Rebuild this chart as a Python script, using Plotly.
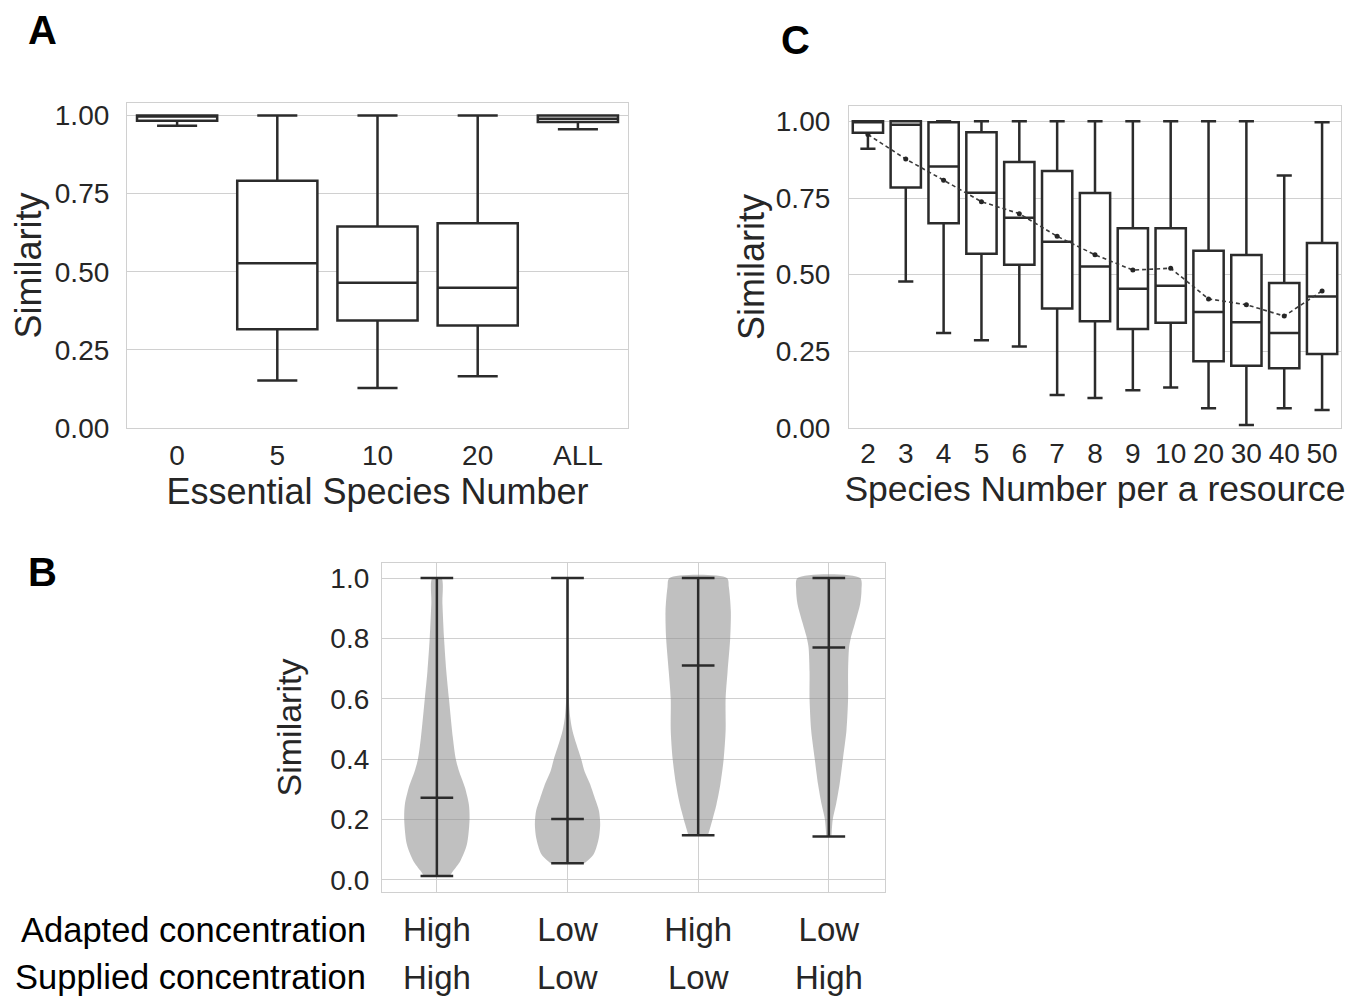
import plotly.graph_objects as go

# ---------------- Panel A data ----------------
a_cats = ["0", "5", "10", "20", "ALL"]
a_lower = [0.967, 0.152, 0.128, 0.166, 0.956]
a_q1 = [0.983, 0.316, 0.344, 0.328, 0.979]
a_median = [0.998, 0.527, 0.465, 0.449, 0.990]
a_q3 = [1.0, 0.791, 0.645, 0.655, 1.0]
a_upper = [1.0, 1.0, 1.0, 1.0, 1.0]

# ---------------- Panel C data ----------------
c_cats = ["2", "3", "4", "5", "6", "7", "8", "9", "10", "20", "30", "40", "50"]
c_lower = [0.911, 0.478, 0.310, 0.286, 0.266, 0.108, 0.098, 0.123, 0.132, 0.064, 0.010, 0.064, 0.059]
c_q1 = [0.963, 0.784, 0.668, 0.568, 0.532, 0.390, 0.348, 0.323, 0.343, 0.218, 0.203, 0.195, 0.241]
c_median = [0.998, 0.989, 0.853, 0.767, 0.686, 0.607, 0.527, 0.454, 0.464, 0.378, 0.345, 0.310, 0.429]
c_q3 = [1.0, 1.0, 0.997, 0.964, 0.867, 0.838, 0.766, 0.651, 0.651, 0.578, 0.564, 0.473, 0.603]
c_upper = [1.0, 1.0, 1.0, 1.0, 1.0, 1.0, 1.0, 1.0, 1.0, 1.0, 1.0, 0.823, 0.997]
c_mean = [0.957, 0.877, 0.808, 0.738, 0.699, 0.625, 0.565, 0.515, 0.521, 0.421, 0.402, 0.365, 0.447]

# ---------------- Panel B data ----------------
b_adapted = ["High", "Low", "High", "Low"]
b_supplied = ["High", "Low", "Low", "High"]
b_min = [0.013, 0.055, 0.148, 0.144]
b_max = [1.0, 1.0, 1.0, 1.0]
b_median = [0.272, 0.202, 0.710, 0.770]
# density profiles (relative width, 1 = widest) at given similarity levels
v1_y = [0.013, 0.03, 0.063, 0.118, 0.2, 0.25, 0.306, 0.36, 0.4, 0.47, 0.6, 0.69, 0.8, 0.915, 1.0]
v1_d = [0.40, 0.50, 0.72, 0.92, 1.0, 0.98, 0.86, 0.68, 0.58, 0.49, 0.37, 0.29, 0.22, 0.17, 0.14]
v2_y = [0.055, 0.085, 0.14, 0.185, 0.23, 0.27, 0.32, 0.36, 0.4, 0.45, 0.495, 0.54, 0.6, 0.7, 0.8, 1.0]
v2_d = [0.52, 0.80, 0.96, 1.0, 0.96, 0.84, 0.68, 0.52, 0.42, 0.27, 0.15, 0.08, 0.04, 0.024, 0.016, 0.012]
v3_y = [0.148, 0.185, 0.25, 0.317, 0.4, 0.495, 0.6, 0.69, 0.8, 0.89, 0.97, 1.0]
v3_d = [0.30, 0.40, 0.56, 0.68, 0.78, 0.84, 0.84, 0.90, 0.98, 1.0, 0.94, 0.88]
v4_y = [0.144, 0.2, 0.25, 0.317, 0.4, 0.495, 0.6, 0.69, 0.77, 0.8, 0.85, 0.915, 0.96, 1.0]
v4_d = [0.08, 0.12, 0.22, 0.33, 0.43, 0.54, 0.59, 0.59, 0.62, 0.67, 0.80, 0.96, 1.0, 0.96]
violin_profiles = [(v1_y, v1_d), (v2_y, v2_d), (v3_y, v3_d), (v4_y, v4_d)]

# ---------------- styles ----------------
W, H = 1362, 999
FONT = "Liberation Sans, Arial, sans-serif"
TXT = "#262626"
LINE = "#2b2b2b"
GRID = "#d0d0d0"
TICK = 28
TITLE = 36
VIOLIN_HALF = 0.25
CAP_HALF = 0.125
BOX_W = 0.8


def dom_x(l, r):
    return [l / W, r / W]


def dom_y(t, b):
    return [1 - b / H, 1 - t / H]


fig = go.Figure()

# Panel A boxes
fig.add_trace(go.Box(
    x=a_cats, q1=a_q1, median=a_median, q3=a_q3,
    lowerfence=a_lower, upperfence=a_upper,
    boxpoints=False, fillcolor="white", width=BOX_W,
    line=dict(color=LINE, width=2.5), whiskerwidth=0.5,
    xaxis="x", yaxis="y", showlegend=False, hoverinfo="skip"))

# Panel C boxes
fig.add_trace(go.Box(
    x=c_cats, q1=c_q1, median=c_median, q3=c_q3,
    lowerfence=c_lower, upperfence=c_upper,
    boxpoints=False, fillcolor="white", width=BOX_W,
    line=dict(color=LINE, width=2.5), whiskerwidth=0.5,
    xaxis="x2", yaxis="y2", showlegend=False, hoverinfo="skip"))
fig.add_trace(go.Scatter(
    x=c_cats, y=c_mean, mode="lines+markers",
    line=dict(color="#3a3a3a", width=1.6, dash="4px,3px"),
    marker=dict(color="#262626", size=5),
    xaxis="x2", yaxis="y2", showlegend=False, hoverinfo="skip"))

# Panel B violins
for i, (vy, vd) in enumerate(violin_profiles):
    xs = [i + d * VIOLIN_HALF for d in vd] + [i - d * VIOLIN_HALF for d in vd[::-1]]
    ys = list(vy) + list(vy[::-1])
    fig.add_trace(go.Scatter(
        x=xs, y=ys, mode="lines", fill="toself",
        fillcolor="rgba(140,140,140,0.55)",
        line=dict(width=0, shape="spline", smoothing=0.8, color="rgba(0,0,0,0)"),
        xaxis="x3", yaxis="y3", showlegend=False, hoverinfo="skip"))
for i in range(len(b_min)):
    fig.add_trace(go.Scatter(
        x=[i, i], y=[b_min[i], b_max[i]], mode="lines",
        line=dict(color=LINE, width=2.5),
        xaxis="x3", yaxis="y3", showlegend=False, hoverinfo="skip"))
    for v in (b_min[i], b_max[i], b_median[i]):
        fig.add_trace(go.Scatter(
            x=[i - CAP_HALF, i + CAP_HALF], y=[v, v], mode="lines",
            line=dict(color=LINE, width=2.5),
            xaxis="x3", yaxis="y3", showlegend=False, hoverinfo="skip"))

axis_common = dict(
    showline=True, mirror=True, linecolor=GRID, linewidth=1.2,
    gridcolor=GRID, gridwidth=1.2, zeroline=False, automargin=False,
    tickfont=dict(size=TICK, color=TXT, family=FONT), ticks="",
)

fig.update_layout(
    width=W, height=H,
    margin=dict(l=0, r=0, t=0, b=0),
    paper_bgcolor="white", plot_bgcolor="white",
    font=dict(family=FONT, color=TXT),
    # Panel A
    xaxis=dict(domain=dom_x(127, 628), anchor="y", type="category",
               range=[-0.5, 4.5], showgrid=False, ticklabelstandoff=2,
               title=dict(text="Essential Species Number", font=dict(size=TITLE, color=TXT), standoff=2),
               **axis_common),
    yaxis=dict(domain=dom_y(103, 428), anchor="x", range=[0, 1.04],
               tickvals=[0, 0.25, 0.5, 0.75, 1.0], ticktext=["0.00", "0.25", "0.50", "0.75", "1.00"],
               showgrid=True, ticklabelstandoff=11,
               title=dict(text="Similarity", font=dict(size=TITLE, color=TXT), standoff=2),
               **axis_common),
    # Panel C
    xaxis2=dict(domain=dom_x(849, 1341), anchor="y2", type="category",
                range=[-0.5, 12.5], showgrid=False, ticklabelstandoff=0,
                title=dict(text="Species Number per a resource", font=dict(size=TITLE - 0.5, color=TXT), standoff=2),
                **axis_common),
    yaxis2=dict(domain=dom_y(106, 428), anchor="x2", range=[0, 1.05],
                tickvals=[0, 0.25, 0.5, 0.75, 1.0], ticktext=["0.00", "0.25", "0.50", "0.75", "1.00"],
                showgrid=True, ticklabelstandoff=12,
                title=dict(text="Similarity", font=dict(size=TITLE, color=TXT), standoff=0),
                **axis_common),
    # Panel B
    xaxis3=dict(domain=dom_x(382, 885), anchor="y3", range=[-0.42, 3.43],
                tickvals=[0, 1, 2, 3], ticktext=b_adapted,
                showgrid=True, ticklabelstandoff=8,
                **{**axis_common, "tickfont": dict(size=33, color=TXT, family=FONT)}),
    yaxis3=dict(domain=dom_y(563, 892), anchor="x3", range=[-0.04, 1.05],
                tickvals=[0, 0.2, 0.4, 0.6, 0.8, 1.0], ticktext=["0.0", "0.2", "0.4", "0.6", "0.8", "1.0"],
                showgrid=True, ticklabelstandoff=6,
                title=dict(text="Similarity", font=dict(size=TITLE - 2, color=TXT), standoff=18),
                **axis_common),
)

annotations = [
    dict(text="<b>A</b>", x=42 / W, y=1 - 30 / H),
    dict(text="<b>B</b>", x=42 / W, y=1 - 572 / H),
    dict(text="<b>C</b>", x=795 / W, y=1 - 40 / H),
]
for a in annotations:
    fig.add_annotation(xref="paper", yref="paper", showarrow=False,
                       xanchor="center", yanchor="middle",
                       font=dict(size=40, color="black", family=FONT), **a)

# second row of B category labels, placed under each violin
for i, s in enumerate(b_supplied):
    fig.add_annotation(xref="x3", yref="paper", showarrow=False,
                       text=s, x=i, y=1 - 977 / H, xanchor="center", yanchor="middle",
                       font=dict(size=33, color=TXT, family=FONT))

row_titles = [("Adapted concentration", 930), ("Supplied concentration", 977)]
for t, yy in row_titles:
    fig.add_annotation(xref="paper", yref="paper", showarrow=False,
                       text=t, x=368 / W, y=1 - yy / H, xanchor="right", yanchor="middle",
                       font=dict(size=34.5, color="black", family=FONT))

fig.write_html("out.html", config={"displayModeBar": False},
               post_script="document.body.style.margin='0';")
